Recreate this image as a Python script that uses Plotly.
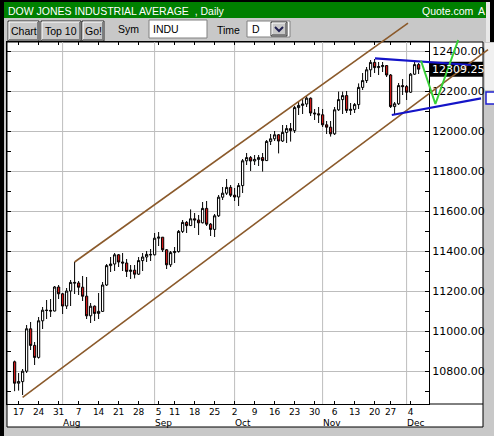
import plotly.graph_objects as go

# ---------------- data ----------------
dates = [
    "2006-07-14", "2006-07-17", "2006-07-18", "2006-07-19", "2006-07-20", "2006-07-21",
    "2006-07-24", "2006-07-25", "2006-07-26", "2006-07-27", "2006-07-28", "2006-07-31",
    "2006-08-01", "2006-08-02", "2006-08-03", "2006-08-04", "2006-08-07", "2006-08-08",
    "2006-08-09", "2006-08-10", "2006-08-11", "2006-08-14", "2006-08-15", "2006-08-16",
    "2006-08-17", "2006-08-18", "2006-08-21", "2006-08-22", "2006-08-23", "2006-08-24",
    "2006-08-25", "2006-08-28", "2006-08-29", "2006-08-30", "2006-08-31", "2006-09-01",
    "2006-09-05", "2006-09-06", "2006-09-07", "2006-09-08", "2006-09-11", "2006-09-12",
    "2006-09-13", "2006-09-14", "2006-09-15", "2006-09-18", "2006-09-19", "2006-09-20",
    "2006-09-21", "2006-09-22", "2006-09-25", "2006-09-26", "2006-09-27", "2006-09-28",
    "2006-09-29", "2006-10-02", "2006-10-03", "2006-10-04", "2006-10-05", "2006-10-06",
    "2006-10-09", "2006-10-10", "2006-10-11", "2006-10-12", "2006-10-13", "2006-10-16",
    "2006-10-17", "2006-10-18", "2006-10-19", "2006-10-20", "2006-10-23", "2006-10-24",
    "2006-10-25", "2006-10-26", "2006-10-27", "2006-10-30", "2006-10-31", "2006-11-01",
    "2006-11-02", "2006-11-03", "2006-11-06", "2006-11-07", "2006-11-08", "2006-11-09",
    "2006-11-10", "2006-11-13", "2006-11-14", "2006-11-15", "2006-11-16", "2006-11-17",
    "2006-11-20", "2006-11-21", "2006-11-22", "2006-11-24", "2006-11-27", "2006-11-28",
    "2006-11-29", "2006-11-30", "2006-12-01", "2006-12-04", "2006-12-05", "2006-12-06",
]
opens = [
    10846, 10739, 10747, 10799, 11011, 10928, 10868, 11051, 11104, 11103, 11100, 11220,
    11186, 11125, 11200, 11243, 11240, 11219, 11174, 11076, 11124, 11088, 11098, 11230,
    11327, 11335, 11381, 11345, 11340, 11298, 11304, 11284, 11352, 11370, 11383, 11381,
    11464, 11469, 11406, 11331, 11392, 11397, 11498, 11543, 11527, 11561, 11555, 11541,
    11613, 11534, 11508, 11576, 11669, 11689, 11718, 11679, 11670, 11727, 11851, 11867,
    11850, 11858, 11867, 11852, 11948, 11961, 11981, 11950, 11993, 12012, 12002, 12117,
    12128, 12135, 12164, 12090, 12086, 12081, 12031, 12019, 11986, 12106, 12157, 12177,
    12103, 12108, 12132, 12218, 12252, 12306, 12343, 12317, 12322, 12327, 12280, 12122,
    12136, 12227, 12222, 12194, 12284, 12332,
]
highs = [
    10852, 10790, 10810, 11030, 11045, 10945, 11070, 11120, 11155, 11160, 11225, 11230,
    11190, 11215, 11255, 11345, 11250, 11275, 11270, 11140, 11128, 11190, 11245, 11335,
    11370, 11390, 11385, 11390, 11360, 11330, 11330, 11370, 11390, 11400, 11410, 11490,
    11495, 11470, 11410, 11400, 11420, 11505, 11555, 11550, 11608, 11590, 11580, 11645,
    11650, 11540, 11585, 11680, 11720, 11760, 11730, 11715, 11740, 11860, 11890, 11875,
    11880, 11880, 11890, 11955, 11985, 12000, 11985, 12030, 12030, 12040, 12125, 12145,
    12165, 12175, 12168, 12110, 12120, 12110, 12050, 12050, 12120, 12197, 12197, 12200,
    12140, 12140, 12238, 12290, 12320, 12355, 12360, 12345, 12345, 12330, 12285, 12145,
    12240, 12260, 12230, 12290, 12355, 12340,
]
lows = [
    10699, 10702, 10680, 10790, 10905, 10830, 10862, 11010, 11060, 11070, 11098, 11160,
    11085, 11110, 11125, 11185, 11180, 11150, 11060, 11040, 11050, 11060, 11095, 11225,
    11295, 11300, 11320, 11300, 11270, 11260, 11263, 11280, 11300, 11345, 11350, 11378,
    11425, 11395, 11310, 11320, 11340, 11392, 11490, 11490, 11525, 11515, 11480, 11538,
    11525, 11475, 11470, 11570, 11655, 11680, 11670, 11650, 11625, 11690, 11830, 11800,
    11830, 11825, 11797, 11850, 11930, 11950, 11888, 11945, 11940, 11947, 11990, 12080,
    12085, 12120, 12075, 12055, 12040, 12020, 11985, 11972, 11980, 12100, 12085, 12090,
    12080, 12090, 12110, 12205, 12240, 12270, 12290, 12280, 12295, 12270, 12115, 12080,
    12130, 12180, 12155, 12190, 12280, 12285,
]
closes = [
    10739, 10747, 10799, 11011, 10928, 10868, 11051, 11104, 11103, 11100, 11220, 11186,
    11125, 11200, 11243, 11240, 11219, 11174, 11076, 11124, 11088, 11098, 11230, 11327,
    11335, 11381, 11345, 11340, 11298, 11304, 11284, 11352, 11370, 11383, 11381, 11464,
    11469, 11406, 11331, 11392, 11397, 11498, 11543, 11527, 11561, 11555, 11541, 11613,
    11534, 11508, 11576, 11669, 11689, 11718, 11679, 11670, 11727, 11851, 11867, 11850,
    11858, 11867, 11852, 11948, 11961, 11981, 11950, 11993, 12012, 12002, 12117, 12128,
    12135, 12164, 12090, 12086, 12081, 12031, 12019, 11986, 12106, 12157, 12177, 12103,
    12108, 12132, 12218, 12252, 12306, 12343, 12317, 12322, 12327, 12280, 12122, 12136,
    12227, 12222, 12194, 12284, 12332, 12309.25,
]

week_tick_dates = [
    "2006-07-17", "2006-07-24", "2006-07-31", "2006-08-07", "2006-08-14", "2006-08-21",
    "2006-08-28", "2006-09-05", "2006-09-11", "2006-09-18", "2006-09-25", "2006-10-02",
    "2006-10-09", "2006-10-16", "2006-10-23", "2006-10-30", "2006-11-06", "2006-11-13",
    "2006-11-20", "2006-11-27", "2006-12-04",
]
month_start_dates = ["2006-08-01", "2006-09-01", "2006-10-02", "2006-11-01", "2006-12-01"]
month_names = ["Aug", "Sep", "Oct", "Nov", "Dec"]
price_ticks = [10800, 11000, 11200, 11400, 11600, 11800, 12000, 12200, 12400]

# hand-drawn study lines: (session number, price)
upper_channel_x, upper_channel_y = [15, 98.35], [11345, 12539]
lower_channel_x, lower_channel_y = [2.0, 118.35], [10668, 12407]
blue_top_x, blue_top_y = [90.1, 114.1], [12363, 12330]
blue_bot_x, blue_bot_y = [94.3, 116.6], [12080, 12163]
green_x, green_y = [101.6, 105.2, 110.9], [12351, 12135, 12455]

title_text = "DOW JONES INDUSTRIAL AVERAGE\u00a0\u00a0, Daily"
symbol = "INDU"

# ---------------- geometry ----------------
W, H = 494, 436
PL, PR, PT, PB = 7, 429, 42, 404          # plot frame in px
X0PX, DXPX = 14.6, 4.0                     # px of session 0, px per session
Y_REF_PX, Y_REF_P, PX_PER_PT = 51, 12400, 0.2


def fx(px):
    return px / W


def fy(py):
    return 1 - py / H


def p_at(py):
    return Y_REF_P + (Y_REF_PX - py) / PX_PER_PT


def i_at(px):
    return (px - X0PX) / DXPX


idx = list(range(len(dates)))
week_idx = [dates.index(d) for d in week_tick_dates]
week_txt = [str(int(d[-2:])) for d in week_tick_dates]
month_idx = [dates.index(d) for d in month_start_dates]

GRID = "#BDBDBD"
TOOLBAR = "#C8C8C8"

fig = go.Figure()

fig.add_trace(go.Candlestick(
    x=idx, open=opens, high=highs, low=lows, close=closes,
    increasing=dict(line=dict(color="black", width=1), fillcolor="white"),
    decreasing=dict(line=dict(color="black", width=1), fillcolor="#D01818"),
    whiskerwidth=0, hoverinfo="skip", showlegend=False,
    xaxis="x", yaxis="y",
))

line_sets = [
    (upper_channel_x, upper_channel_y, "#8B5A2B", 1.6),
    (lower_channel_x, lower_channel_y, "#8B5A2B", 1.6),
    (blue_top_x, blue_top_y, "#1414C8", 2.2),
    (blue_bot_x, blue_bot_y, "#1414C8", 2.2),
    (green_x, green_y, "#38D038", 2.0),
]
for xs, ys, col, w in line_sets:
    fig.add_trace(go.Scatter(x=xs, y=ys, mode="lines", line=dict(color=col, width=w),
                             xaxis="x2", yaxis="y2", hoverinfo="skip", showlegend=False))

shapes = []


def rect(x0, y0, x1, y1, fill, line=None, lw=1, layer="below"):
    shapes.append(dict(type="rect", xref="paper", yref="paper",
                       x0=fx(x0), x1=fx(x1), y0=fy(y1), y1=fy(y0),
                       fillcolor=fill, line=dict(color=line or fill, width=lw if line else 0),
                       layer=layer))


def seg(x0, y0, x1, y1, col, lw=1):
    shapes.append(dict(type="line", xref="paper", yref="paper",
                       x0=fx(x0), x1=fx(x1), y0=fy(y0), y1=fy(y1),
                       line=dict(color=col, width=lw), layer="below"))


def button(x0, y0, x1, y1):
    rect(x0, y0, x1, y1, TOOLBAR, "#303030", 1)
    seg(x0 + 1, y0 + 1, x1 - 1, y0 + 1, "white")
    seg(x0 + 1, y0 + 1, x0 + 1, y1 - 1, "white")
    seg(x0 + 1, y1 - 1.5, x1 - 1, y1 - 1.5, "#808080")
    seg(x1 - 1.5, y0 + 1, x1 - 1.5, y1 - 1, "#808080")


# frame / background pieces
rect(0, 0, 4, H, "black")
rect(0, 0, W, 2, "black")
rect(4, 2, 486, 18, "#008000")
rect(486, 2, 490, 42, "#E8E8E8")
rect(490, 0, W, 42, "black")
rect(7, 42, 483, 427, "white", "black", 1)
rect(485, 43, W, 90, "#F0F0F0")
rect(486, 92, W + 2, 104, "white", "#2020D0", 1.5)
seg(429, 404, 483, 404, "black")

# toolbar widgets
button(8, 21, 39, 41)
button(41, 21, 81, 41)
button(82, 21, 104, 41)
rect(149, 20, 207, 38, "white", "#808080", 1)
rect(247, 21, 290, 37, "white", "#808080", 1)
button(271, 22, 287, 36)
shapes.append(dict(type="path", xref="paper", yref="paper",
                   path=f"M {fx(275)} {fy(27)} L {fx(279)} {fy(31)} L {fx(283)} {fy(27)}",
                   line=dict(color="#202050", width=2), layer="below"))

# month grid lines (vertical)
for mi in month_idx:
    shapes.append(dict(type="line", xref="x", yref="paper", x0=mi, x1=mi,
                       y0=fy(PB), y1=fy(PT), line=dict(color=GRID, width=1), layer="below"))

# last price box
last = closes[-1]
half_h = 7.5 / PX_PER_PT
shapes.append(dict(type="rect", xref="paper", yref="y2", x0=fx(429.5), x1=fx(483),
                   y0=last - half_h, y1=last + half_h, fillcolor="black",
                   line=dict(width=0), layer="below"))

annotations = []


def txt(x, y, s, size=10.5, color="black", anchor="left", family="Liberation Sans, Arial"):
    annotations.append(dict(xref="paper", yref="paper", x=fx(x), y=fy(y), text=s,
                            showarrow=False, xanchor=anchor, yanchor="middle",
                            font=dict(family=family, size=size, color=color)))


txt(6, 10.5, title_text, 10.5, "white")
txt(420, 10.5, "Quote.com", 10.5, "white")
txt(476, 10.5, "A", 10.5, "white")
txt(23.5, 31, "Chart", 10.5, anchor="center")
txt(61, 31, "Top 10", 10.5, anchor="center")
txt(93, 31, "Go!", 10.5, anchor="center")
txt(116, 29, "Sym", 10.5)
txt(151, 29, symbol, 10.5)
txt(215, 30, "Time", 10.5)
txt(250, 29, "D", 10.5)

for mi, name in zip(month_idx, month_names):
    annotations.append(dict(xref="x", yref="paper", x=mi, y=fy(423), text=name,
                            showarrow=False, xanchor="left", yanchor="middle", xshift=-1,
                            borderpad=0,
                            font=dict(family="DejaVu Sans", size=9, color="black")))

annotations.append(dict(xref="paper", yref="y2", x=fx(430), y=last, text=f"{last:.2f}",
                        showarrow=False, xanchor="left", yanchor="middle",
                        font=dict(family="DejaVu Sans", size=11, color="white")))

fig.update_layout(
    width=W, height=H, margin=dict(l=0, r=0, t=0, b=0, pad=0),
    paper_bgcolor=TOOLBAR, plot_bgcolor="rgba(0,0,0,0)",
    showlegend=False, boxgap=0.25, boxgroupgap=0.25,
    xaxis=dict(domain=[fx(PL), fx(PR)], range=[i_at(PL), i_at(PR)], anchor="y",
               tickmode="array", tickvals=week_idx, ticktext=week_txt,
               ticks="inside", ticklen=3, tickcolor="black",
               showgrid=False, zeroline=False, showline=True, linecolor="black",
               linewidth=1, mirror="ticks", automargin=False, fixedrange=True,
               tickfont=dict(family="DejaVu Sans", size=9, color="black"),
               ticklabelstandoff=-1,
               rangeslider=dict(visible=False)),
    yaxis=dict(domain=[fy(PB), fy(PT)], range=[p_at(PB), p_at(PT)], anchor="x",
               side="right", tickmode="array", tickvals=price_ticks,
               ticktext=[f"{v:.2f}" for v in price_ticks],
               ticks="inside", ticklen=4, tickcolor="black",
               minor=dict(dtick=100, tick0=0, ticks="inside", ticklen=4, tickcolor="black",
                          showgrid=False),
               showgrid=True, gridcolor=GRID, gridwidth=1, zeroline=False,
               showline=True, linecolor="black", linewidth=1, mirror="ticks",
               automargin=False, fixedrange=True,
               tickfont=dict(family="DejaVu Sans", size=11, color="black")),
    xaxis2=dict(domain=[0, 1], range=[i_at(0), i_at(W)], anchor="y2", visible=False,
                fixedrange=True),
    yaxis2=dict(domain=[0, 1], range=[p_at(H), p_at(0)], anchor="x2", visible=False,
                fixedrange=True),
    shapes=shapes, annotations=annotations,
)

fig.write_html("out.html", config={"displayModeBar": False},
               post_script="document.body.style.margin='0px';document.body.style.overflow='hidden';")
